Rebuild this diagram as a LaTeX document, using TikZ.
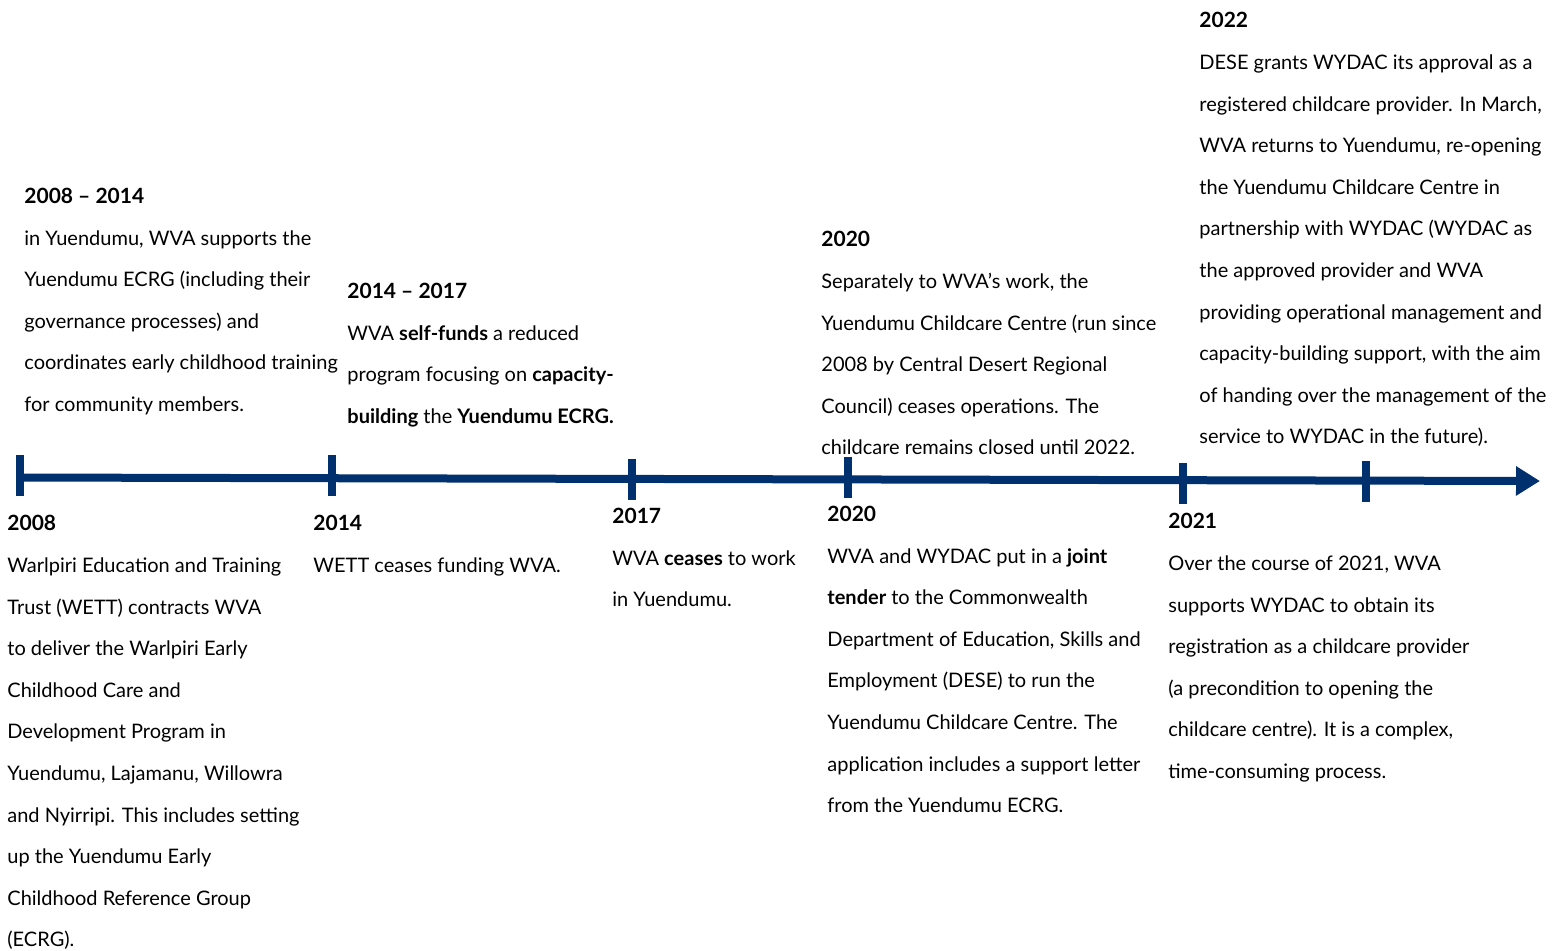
\documentclass[tikz,border=0pt]{standalone}
\usepackage{fontspec}
\setmainfont{Lato}
\usepackage{tikz}
\usetikzlibrary{arrows.meta, positioning}
\definecolor{navy}{HTML}{00306E}
\tikzset{
	yeartext/.style={anchor=north west, yshift=14.56pt, align=left, inner sep=0pt, text=black,
		font=\fontsize{10}{20.8}\selectfont}
}
\tikzset{
	rail/.style={draw=navy, line width=4pt},
	tickmark/.style={draw=navy, line width=4pt}
}
\newcommand{\yr}[1]{\strut{\fontsize{10.5}{20.8}\selectfont\bfseries #1}\\}

\begin{document}
\begin{tikzpicture}[x=0.5pt, y=-0.5pt, >=stealth]
      \useasboundingbox (0,0) rectangle (1552,950);
      % time line
      \coordinate (tlstart) at (20,477.5);
      \coordinate (tlend) at (1540,481);
      \draw[rail, -{Triangle[length=12pt, width=14pt]}] (tlstart) -- (tlend);
      \foreach \x/\y [count=\i] in {20/475.5, 332/475.5, 632/479, 848/477, 1183/483.5, 1366/481.5}
        \draw[tickmark] (\x,\y-20.5) coordinate (tick\i) -- (\x,\y+20.5);
      % above the line
      \node[yeartext] (p0814) at (24,203) {\yr{2008 -- 2014}
        in Yuendumu, WVA supports the\\
        Yuendumu ECRG (including their\\
        governance processes) and\\
        coordinates early childhood training\\
        for community members.};
      \node[yeartext] (p1417) at (347,298) {\yr{2014 -- 2017}
        WVA \textbf{self-funds} a reduced\\
        program focusing on \textbf{capacity-}\\
        \textbf{building} the \textbf{Yuendumu ECRG.}};
      \node[yeartext] (p20a) at (821,246.5) {\yr{2020}
        Separately to WVA’s work, the\\
        Yuendumu Childcare Centre (run since\\
        2008 by Central Desert Regional\\
        Council) ceases operations. The\\
        childcare remains closed until 2022.};
      \node[yeartext] (p22) at (1199,27.5) {\yr{2022}
        DESE grants WYDAC its approval as a\\
        registered childcare provider. In March,\\
        WVA returns to Yuendumu, re-opening\\
        the Yuendumu Childcare Centre in\\
        partnership with WYDAC (WYDAC as\\
        the approved provider and WVA\\
        providing operational management and\\
        capacity-building support, with the aim\\
        of handing over the management of the\\
        service to WYDAC in the future).};
      % below the line
      \node[yeartext] (p08) at (7,530.5) {\yr{2008}
        Warlpiri Education and Training\\
        Trust (WETT) contracts WVA\\
        to deliver the Warlpiri Early\\
        Childhood Care and\\
        Development Program in\\
        Yuendumu, Lajamanu, Willowra\\
        and Nyirripi. This includes setting\\
        up the Yuendumu Early\\
        Childhood Reference Group\\
        (ECRG).};
      \node[yeartext] (p14) at (313,530.5) {\yr{2014}
        WETT ceases funding WVA.};
      \node[yeartext] (p17) at (612,523) {\yr{2017}
        WVA \textbf{ceases} to work\\
        in Yuendumu.};
      \node[yeartext] (p20b) at (827,521) {\yr{2020}
        WVA and WYDAC put in a \textbf{joint}\\
        \textbf{tender} to the Commonwealth\\
        Department of Education, Skills and\\
        Employment (DESE) to run the\\
        Yuendumu Childcare Centre. The\\
        application includes a support letter\\
        from the Yuendumu ECRG.};
      \node[yeartext] (p21) at (1168,528.5) {\yr{2021}
        Over the course of 2021, WVA\\
        supports WYDAC to obtain its\\
        registration as a childcare provider\\
        (a precondition to opening the\\
        childcare centre). It is a complex,\\
        time-consuming process.};
\end{tikzpicture}
\end{document}
